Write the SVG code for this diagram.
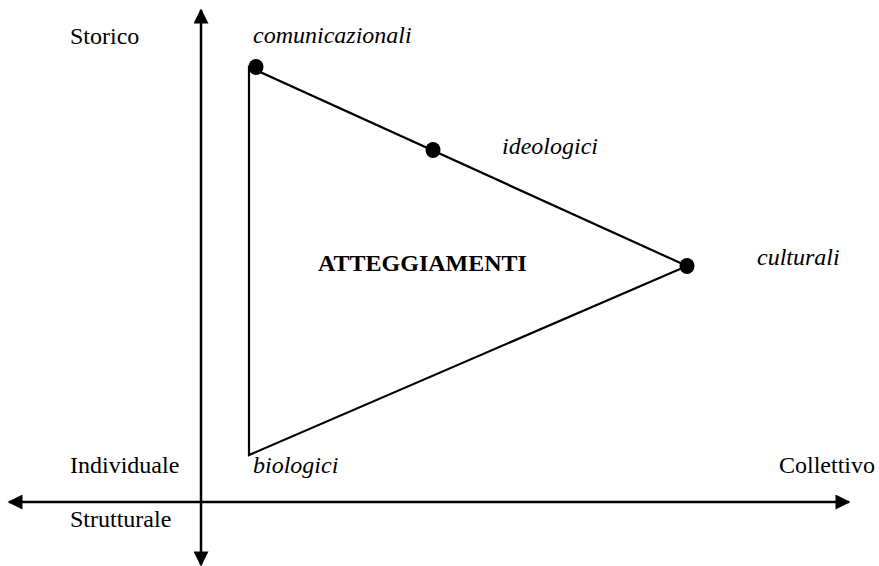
<svg xmlns="http://www.w3.org/2000/svg" width="879" height="566" viewBox="0 0 879 566">
<style>
.t{font-family:"Liberation Serif","Times New Roman",serif;font-size:24px;fill:#000}
.i{font-style:italic}
.b{font-weight:bold;font-size:24px}
.ax{stroke:#000;stroke-width:2.5;fill:none}
.tri{stroke:#000;stroke-width:2.2;fill:none}
</style>
<defs>
<marker id="ah" viewBox="0 0 10 10" refX="9" refY="5" markerWidth="7" markerHeight="6" markerUnits="strokeWidth" orient="auto">
<path d="M0,0 L10,5 L0,10 Z" fill="#000"/>
</marker>
</defs>
<g id="connectors">
<line class="ax" x1="201" y1="502" x2="201" y2="10" marker-end="url(#ah)"/>
<line class="ax" x1="201" y1="502" x2="201" y2="565" marker-end="url(#ah)"/>
<line class="ax" x1="201" y1="502" x2="9" y2="502" marker-end="url(#ah)"/>
<line class="ax" x1="201" y1="502" x2="849" y2="502" marker-end="url(#ah)"/>
<polygon class="tri" points="249,67 687,266 249,455"/>
</g>
<g id="comunicazionali"><ellipse cx="256" cy="67" rx="7.5" ry="8"/><text class="t i" x="253" y="43">comunicazionali</text></g>
<g id="ideologici"><ellipse cx="433" cy="150" rx="7.5" ry="8"/><text class="t i" x="502" y="154">ideologici</text></g>
<g id="culturali"><ellipse cx="687" cy="266" rx="7.5" ry="8"/><text class="t i" x="757" y="265">culturali</text></g>
<g id="biologici"><text class="t i" x="253" y="473">biologici</text></g>
<g id="atteggiamenti"><text class="t b" x="318" y="271">ATTEGGIAMENTI</text></g>
<g id="labels">
<text class="t" x="70" y="44">Storico</text>
<text class="t" x="70" y="473">Individuale</text>
<text class="t" x="779" y="473">Collettivo</text>
<text class="t" x="70" y="527">Strutturale</text>
</g>
</svg>
